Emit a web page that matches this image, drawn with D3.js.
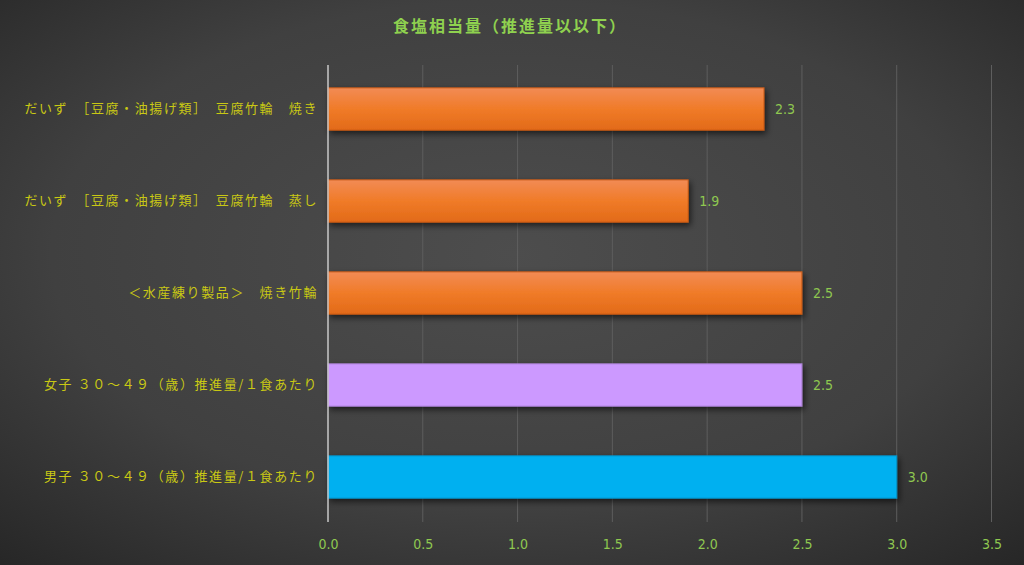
<!DOCTYPE html>
<html>
<head>
<meta charset="utf-8">
<script src="https://cdn.jsdelivr.net/npm/d3@7"></script>
<style>
  html, body { margin: 0; padding: 0; background: #333; }
  svg { display: block; }
</style>
</head>
<body>
<svg id="chart" width="1024" height="565"></svg>
<script>
// chart data
const categories = [
    "だいず　［豆腐・油揚げ類］　豆腐竹輪　焼き",
    "だいず　［豆腐・油揚げ類］　豆腐竹輪　蒸し",
    "＜水産練り製品＞　焼き竹輪",
    "女子 ３０～４９（歳）推進量/１食あたり",
    "男子 ３０～４９（歳）推進量/１食あたり"
];
const values = [2.3, 1.9, 2.5, 2.5, 3.0];
const barColors = ["orange", "orange", "orange", "#cc99ff", "#00b0f0"];
const tickValues = [0, 0.5, 1.0, 1.5, 2.0, 2.5, 3.0, 3.5];
const title = "食塩相当量（推進量以以下）";

const svg = d3.select("#chart");
const width = 1024, height = 565;
const plotLeft = 328, plotRight = 991.5, plotTop = 63, plotBottom = 523;

const defs = svg.append("defs");
const bg = defs.append("radialGradient").attr("id", "bg")
    .attr("cx", "50%").attr("cy", "45%").attr("r", "75%");
bg.append("stop").attr("offset", "0%").attr("stop-color", "#4d4d4d");
bg.append("stop").attr("offset", "60%").attr("stop-color", "#404040");
bg.append("stop").attr("offset", "100%").attr("stop-color", "#262626");

const og = defs.append("linearGradient").attr("id", "orange")
    .attr("x1", 0).attr("y1", 0).attr("x2", 0).attr("y2", 1);
og.append("stop").attr("offset", "0%").attr("stop-color", "#f28b55");
og.append("stop").attr("offset", "50%").attr("stop-color", "#f07b28");
og.append("stop").attr("offset", "100%").attr("stop-color", "#e26a18");

const sh = defs.append("filter").attr("id", "shadow")
    .attr("x", "-5%").attr("y", "-20%").attr("width", "115%").attr("height", "160%");
sh.append("feDropShadow").attr("dx", 2).attr("dy", 3).attr("stdDeviation", 3)
    .attr("flood-color", "#000").attr("flood-opacity", 0.6);

svg.append("rect").attr("width", width).attr("height", height).attr("fill", "url(#bg)");

const x = d3.scaleLinear().domain([0, 3.5]).range([plotLeft, plotRight]);
const y = d3.scaleBand().domain(categories).range([plotTop, plotBottom]).paddingInner(0.54).paddingOuter(0.27);

// gridlines
svg.append("g")
    .selectAll("line")
    .data(tickValues.slice(1))
    .join("line")
    .attr("x1", d => x(d)).attr("x2", d => x(d))
    .attr("y1", 65).attr("y2", 522)
    .attr("stroke", "#5e5e5e").attr("stroke-width", 1);

// bars
svg.append("g")
    .selectAll("rect")
    .data(values)
    .join("rect")
    .attr("x", x(0))
    .attr("y", (d, i) => y(categories[i]))
    .attr("width", d => x(d) - x(0))
    .attr("height", y.bandwidth())
    .attr("fill", (d, i) => barColors[i] === "orange" ? "url(#orange)" : barColors[i])
    .attr("stroke", (d, i) => barColors[i] === "orange" ? "#c85a14" : d3.color(barColors[i]).darker(0.5))
    .attr("stroke-width", 1)
    .attr("filter", "url(#shadow)");

// value labels
svg.append("g")
    .selectAll("text")
    .data(values)
    .join("text")
    .attr("x", d => x(d) + 11)
    .attr("y", (d, i) => y(categories[i]) + y.bandwidth() / 2)
    .attr("dy", "0.35em")
    .attr("fill", "#8fc850")
    .attr("font-family", "'Liberation Sans Narrow', 'DejaVu Sans Condensed', sans-serif")
    .attr("font-size", 14)
    .text(d => d.toFixed(1));

// y axis line
svg.append("line")
    .attr("x1", x(0)).attr("x2", x(0))
    .attr("y1", 65).attr("y2", 522)
    .attr("stroke", "#c8c8c8").attr("stroke-width", 1.5);

// category labels
const yAxis = svg.append("g")
    .attr("transform", `translate(${x(0)},0)`)
    .call(d3.axisLeft(y).tickSize(0).tickPadding(10));
yAxis.select(".domain").remove();
yAxis.selectAll("text")
    .attr("fill", "#c9c814")
    .attr("font-family", "'Noto Sans CJK JP', sans-serif")
    .attr("font-size", 13)
    .attr("letter-spacing", 1.6);

// x axis labels
const xAxis = svg.append("g")
    .attr("transform", `translate(0,${plotBottom})`)
    .call(d3.axisBottom(x).tickValues(tickValues).tickFormat(d3.format(".1f")).tickSize(0).tickPadding(16));
xAxis.select(".domain").remove();
xAxis.selectAll("text")
    .attr("fill", "#8fc850")
    .attr("font-family", "'Liberation Sans Narrow', 'DejaVu Sans Condensed', sans-serif")
    .attr("font-size", 14);

// title
svg.append("text")
    .attr("x", 510).attr("y", 32)
    .attr("text-anchor", "middle")
    .attr("fill", "#8fd14f")
    .attr("font-family", "'Noto Sans CJK JP', sans-serif")
    .attr("font-weight", "bold")
    .attr("font-size", 16)
    .attr("letter-spacing", 2)
    .text(title);
</script>
</body>
</html>
